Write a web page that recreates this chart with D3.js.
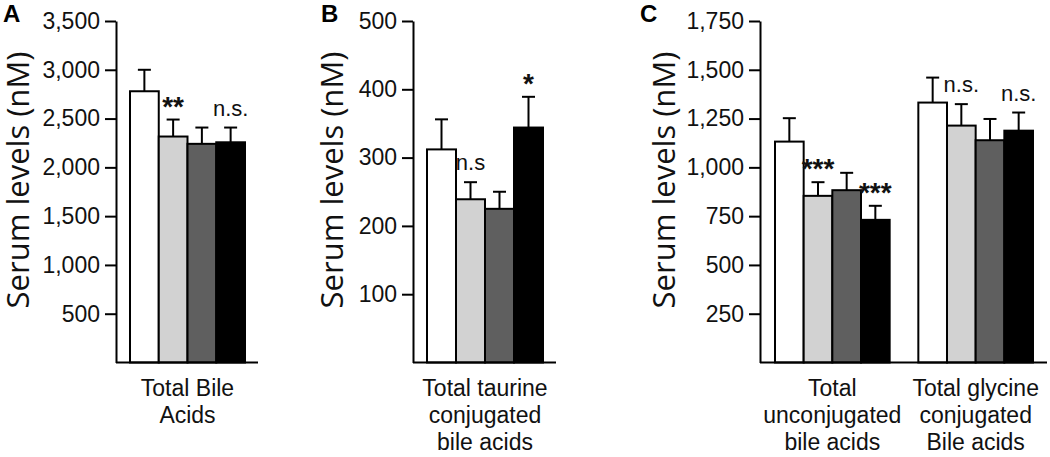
<!DOCTYPE html>
<html>
<head>
<meta charset="utf-8">
<script src="https://cdn.jsdelivr.net/npm/d3@7"></script>
<style>
  body { margin: 0; background: #fff; }
  svg { display: block; }
</style>
</head>
<body>
<svg width="1050" height="457"></svg>
<script>
// bar fills, one per treatment group
const seriesFills = ["#ffffff", "#d2d2d2", "#5f5f5f", "#000000"];

// panel A: total bile acids
const catsA = [["Total Bile", "Acids"]];
const meanA = [[2780, 2316, 2241, 2257]];
const semA = [[220, 174, 167, 151]];
const ticksA = [500, 1000, 1500, 2000, 2500, 3000, 3500];
const marksA = [{ g: 0, b: 1, t: "**" }, { g: 0, b: 3, t: "n.s." }];

// panel B: taurine conjugated
const catsB = [["Total taurine", "conjugated", "bile acids"]];
const meanB = [[312, 239, 225, 344]];
const semB = [[44, 25, 25, 45]];
const ticksB = [100, 200, 300, 400, 500];
const marksB = [{ g: 0, b: 1, t: "n.s" }, { g: 0, b: 3, t: "*" }];

// panel C: unconjugated / glycine conjugated
const catsC = [["Total", "unconjugated", "bile acids"], ["Total glycine", "conjugated", "Bile acids"]];
const meanC = [[1132, 854, 883, 731], [1332, 1214, 1139, 1188]];
const semC = [[120, 70, 89, 72], [128, 110, 109, 93]];
const ticksC = [250, 500, 750, 1000, 1250, 1500, 1750];
const marksC = [
    { g: 0, b: 1, t: "***" }, { g: 0, b: 3, t: "***" },
    { g: 1, b: 1, t: "n.s." }, { g: 1, b: 3, t: "n.s." }
];

const panels = [
    { letter: "A", cats: catsA, mean: meanA, sem: semA, ticks: ticksA, marks: marksA,
      letterX: 3, labelX: 29, axisX: 116, barsX0: 130, barsX1: 245, lineEnd: 258 },
    { letter: "B", cats: catsB, mean: meanB, sem: semB, ticks: ticksB, marks: marksB,
      letterX: 321, labelX: 343, axisX: 413, barsX0: 427, barsX1: 543, lineEnd: 556 },
    { letter: "C", cats: catsC, mean: meanC, sem: semC, ticks: ticksC, marks: marksC,
      letterX: 640, labelX: 675, axisX: 760, barsX0: 775, barsX1: 1033, lineEnd: 1047 }
];

const svg = d3.select("svg");
const yBottom = 362.5;
const yTop = 21;
const tickFont = "'Liberation Sans', Arial, sans-serif";
const fmt = d3.format(",");

panels.forEach(p => {
    const g = svg.append("g");
    const yMax = p.ticks[p.ticks.length - 1];
    const y = d3.scaleLinear().domain([0, yMax]).range([yBottom, yTop]);

    // band scale: no padding when a panel has one group
    const x0 = d3.scaleBand()
        .domain(d3.range(p.cats.length))
        .range([p.barsX0, p.barsX1])
        .paddingInner(p.cats.length > 1 ? 0.2 : 0);
    const x1 = d3.scaleBand()
        .domain(d3.range(seriesFills.length))
        .range([0, x0.bandwidth()]);

    // panel letter
    g.append("text")
        .attr("x", p.letterX)
        .attr("y", 22)
        .attr("font-family", "'Liberation Sans', Arial, sans-serif")
        .attr("font-weight", "bold")
        .attr("font-size", 24)
        .text(p.letter);

    // y axis title
    g.append("text")
        .attr("transform", `translate(${p.labelX},180) rotate(-90)`)
        .attr("text-anchor", "middle")
        .attr("font-family", "'Open Sans', sans-serif")
        .attr("font-size", 31)
        .attr("fill", "#111")
        .text("Serum levels (nM)");

    // bars
    p.mean.forEach((vals, gi) => {
        const bg = g.append("g").attr("transform", `translate(${x0(gi)},0)`);
        bg.selectAll("rect")
            .data(vals)
            .join("rect")
            .attr("x", (_d, i) => x1(i))
            .attr("y", d => y(d))
            .attr("width", x1.bandwidth())
            .attr("height", d => y(0) - y(d))
            .attr("fill", (_d, i) => seriesFills[i])
            .attr("stroke", "#000")
            .attr("stroke-width", 2);

        // error bars (upper only)
        const err = bg.selectAll("g.err")
            .data(vals.map((v, i) => ({ v: v, s: p.sem[gi][i], i: i })))
            .join("g")
            .attr("class", "err")
            .attr("stroke", "#000")
            .attr("stroke-width", 2);
        err.append("line")
            .attr("x1", d => x1(d.i) + x1.bandwidth() / 2)
            .attr("x2", d => x1(d.i) + x1.bandwidth() / 2)
            .attr("y1", d => y(d.v))
            .attr("y2", d => y(d.v + d.s));
        err.append("line")
            .attr("x1", d => x1(d.i) + x1.bandwidth() / 2 - 6.5)
            .attr("x2", d => x1(d.i) + x1.bandwidth() / 2 + 6.5)
            .attr("y1", d => y(d.v + d.s))
            .attr("y2", d => y(d.v + d.s));

        // category label
        const lab = g.append("text")
            .attr("text-anchor", "middle")
            .attr("font-family", tickFont)
            .attr("font-size", 23)
            .attr("fill", "#111");
        p.cats[gi].forEach((line, li) => {
            lab.append("tspan")
                .attr("x", x0(gi) + x0.bandwidth() / 2)
                .attr("y", 396 + li * 27)
                .text(line);
        });
    });

    // significance marks
    g.selectAll("text.sig")
        .data(p.marks)
        .join("text")
        .attr("class", "sig")
        .attr("text-anchor", "middle")
        .attr("font-family", tickFont)
        .attr("font-size", d => (d.t.includes("*") ? 28 : 22))
        .attr("font-weight", d => (d.t.includes("*") ? "bold" : "normal"))
        .attr("fill", "#111")
        .attr("x", d => x0(d.g) + x1(d.b) + x1.bandwidth() / 2)
        .attr("y", d => {
            const top = y(p.mean[d.g][d.b] + p.sem[d.g][d.b]);
            // asterisks sit high in the em box
            return d.t.includes("*") ? top - 4 : top - 12;
        })
        .text(d => d.t);

    // y axis
    const axis = g.append("g")
        .attr("transform", `translate(${p.axisX},0)`)
        .call(d3.axisLeft(y)
            .tickValues(p.ticks)
            .tickFormat(fmt)
            .tickSize(11)
            .tickSizeOuter(0)
            .tickPadding(5));
    axis.selectAll("path, line").attr("stroke", "#000").attr("stroke-width", 2);
    axis.selectAll("text")
        .attr("font-family", tickFont)
        .attr("font-size", 23)
        .attr("fill", "#111");

    // baseline
    g.append("line")
        .attr("x1", p.axisX)
        .attr("x2", p.lineEnd)
        .attr("y1", y(0))
        .attr("y2", y(0))
        .attr("stroke", "#000")
        .attr("stroke-width", 2);
});
</script>
</body>
</html>
